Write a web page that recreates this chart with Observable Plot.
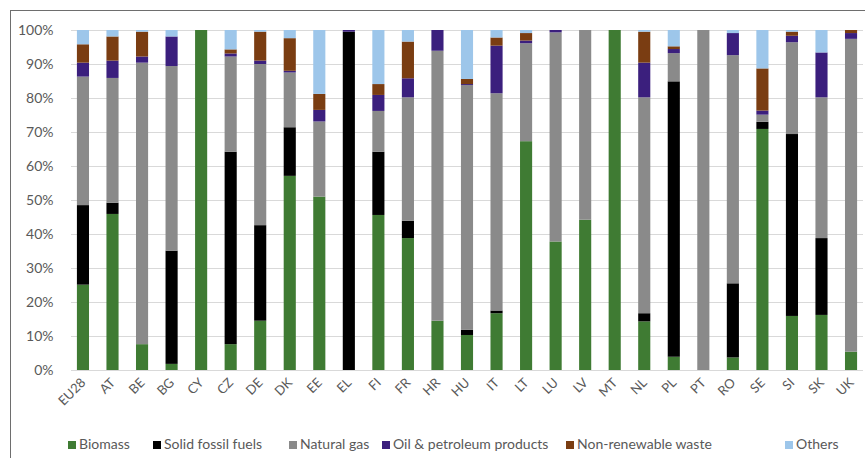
<!DOCTYPE html>
<html>
<head>
<meta charset="utf-8">
<script src="https://cdn.jsdelivr.net/npm/d3@7"></script>
<script src="https://cdn.jsdelivr.net/npm/@observablehq/plot@0.6"></script>
<style>
  html, body { margin: 0; padding: 0; background: #fff; }
  #wrap { position: relative; width: 865px; height: 458px; overflow: hidden; font-family: Lato, "Open Sans", sans-serif; }
  #frame { position: absolute; left: 10px; top: 10px; width: 870px; height: 470px; border-left: 1.5px solid #6e6e6e; border-top: 1.5px solid #6e6e6e; box-sizing: border-box; pointer-events: none; }
  #chart { position: absolute; left: 0; top: 0; }
  #legend { position: absolute; top: 435px; left: 0; width: 865px; height: 18px; font-size: 14px; color: #595959; }
  .item { position: absolute; top: 0; white-space: nowrap; line-height: 18px; }
  .sw { display: inline-block; width: 8px; height: 8px; margin-right: 3px; vertical-align: 0px; }
</style>
</head>
<body>
<div id="wrap">
  <div id="chart"></div>
  <div id="legend"></div>
  <div id="frame"></div>
</div>
<script>
const countries = ["EU28","AT","BE","BG","CY","CZ","DE","DK","EE","EL","FI","FR","HR","HU","IT","LT","LU","LV","MT","NL","PL","PT","RO","SE","SI","SK","UK"];
const seriesNames = ["Biomass","Solid fossil fuels","Natural gas","Oil & petroleum products","Non-renewable waste","Others"];
const seriesColors = ["#3f7b33","#000000","#8a8a8a","#3b1f7d","#7a3d12","#9dc6ea"];

const biomass      = [25.1,45.9, 7.6, 1.8,100, 7.6,14.5,57.1,51.0,  0,45.6,38.8,14.5,10.3,16.7,67.3,37.8,44.2,100,14.3, 3.9,  0, 3.7,70.9,15.9,16.2, 5.4];
const solidFossil  = [23.4, 3.3,   0,33.3,  0,56.6,28.1,14.3,   0,99.5,18.6, 5.1,   0, 1.5, 0.8,   0,   0,   0,  0, 2.4,81.0,  0,21.8, 2.1,53.5,22.6,   0];
const naturalGas   = [37.8,36.7,82.8,54.3,  0,28.0,47.4,16.1,22.1,  0,12.0,36.3,79.4,72.0,63.9,28.8,61.5,55.8,  0,63.5, 8.3,100,67.1, 2.1,27.0,41.4,92.0];
const oilPetroleum = [ 4.1, 5.1, 1.8, 8.7,  0, 0.9, 1.0, 0.5, 3.4, 0.5, 4.7, 5.6, 6.1, 0.3,14.0, 0.8, 0.7,   0,  0,10.2, 1.2,  0, 6.5, 1.2, 1.9,13.2, 1.7];
const nonRenewWaste= [ 5.4, 7.1, 7.3,   0,  0, 1.2, 8.5, 9.6, 4.7,  0, 3.2,10.8,   0, 1.5, 2.4, 2.2,   0,   0,  0, 9.1, 0.8,  0,   0,12.4, 1.2,   0, 0.9];
const others       = [ 4.2, 1.9, 0.5, 1.9,  0, 5.7, 0.5, 2.4,18.8,  0,15.9, 3.4,   0,14.4, 2.2, 0.9,   0,   0,  0, 0.5, 4.8,  0, 0.9,11.3, 0.5, 6.6,   0];
const yTicks = [0,10,20,30,40,50,60,70,80,90,100];

const seriesValues = [biomass, solidFossil, naturalGas, oilPetroleum, nonRenewWaste, others];
const rows = [];
seriesNames.forEach((s, si) => {
  countries.forEach((c, ci) => rows.push({country: c, series: s, value: seriesValues[si][ci]}));
});

const chart = Plot.plot({
  width: 865,
  height: 430,
  marginLeft: 71,
  marginRight: 2,
  marginTop: 30,
  marginBottom: 60,
  style: {fontFamily: "Lato, 'Open Sans', sans-serif", fontSize: "14px", color: "#595959", background: "transparent"},
  x: {domain: countries, paddingInner: 0.59, paddingOuter: 0.2, round: false, label: null},
  y: {domain: [0, 100], label: null},
  color: {domain: seriesNames, range: seriesColors},
  marks: [
    Plot.ruleY(yTicks, {stroke: "#d9d9d9", strokeWidth: 1}),
    Plot.barY(rows, {x: "country", y: "value", fill: "series", order: seriesNames}),
    Plot.axisY(yTicks, {tickSize: 0, tickPadding: 18, tickFormat: d => d + "%", fontSize: 14}),
    Plot.axisX({tickSize: 0, tickRotate: -45, tickPadding: 10, fontSize: 13})
  ]
});
document.getElementById("chart").appendChild(chart);

const legendLefts = [68, 153, 289, 382, 566, 785];
const legend = document.getElementById("legend");
seriesNames.forEach((s, i) => {
  const it = document.createElement("div");
  it.className = "item";
  it.style.left = legendLefts[i] + "px";
  const sw = document.createElement("span");
  sw.className = "sw";
  sw.style.background = seriesColors[i];
  it.appendChild(sw);
  it.appendChild(document.createTextNode(s));
  legend.appendChild(it);
});
</script>
</body>
</html>
